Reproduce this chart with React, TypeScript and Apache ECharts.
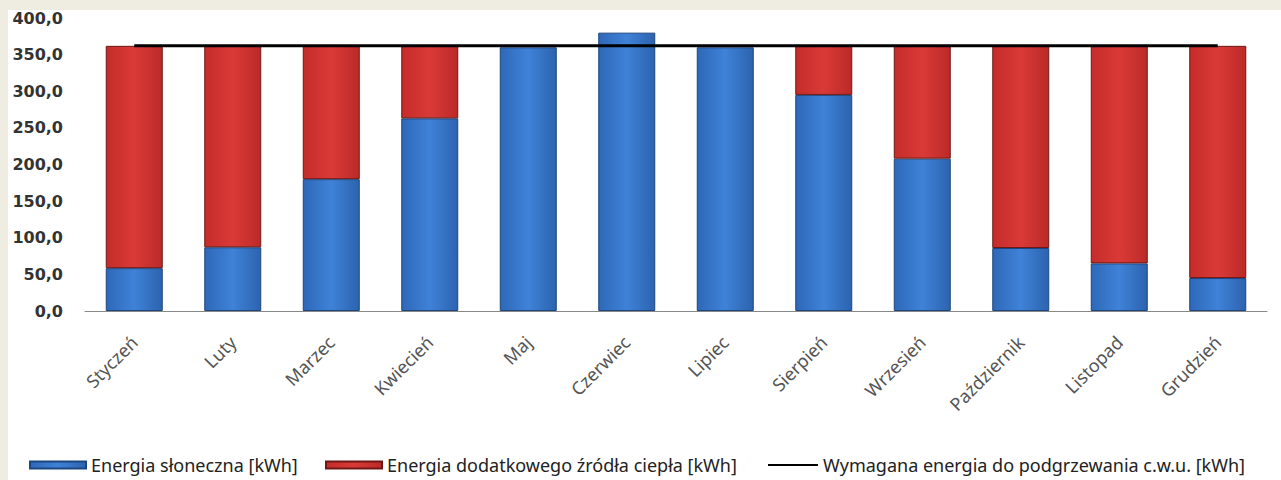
import React, { useEffect, useRef } from "react";
import * as echarts from "echarts";

const months = ["Styczeń", "Luty", "Marzec", "Kwiecień", "Maj", "Czerwiec", "Lipiec", "Sierpień", "Wrzesień", "Październik", "Listopad", "Grudzień"];
const solar = [58.5, 87, 180, 263, 360, 380, 360, 295, 208, 86, 65, 45];
const extra = [303.5, 275, 182, 99, null, null, null, 67, 154, 276, 297, 317];
const required = [362, 362, 362, 362, 362, 362, 362, 362, 362, 362, 362, 362];
const seriesNames = ["Energia słoneczna [kWh]", "Energia dodatkowego źródła ciepła [kWh]", "Wymagana energia do podgrzewania c.w.u. [kWh]"];

export default function App() {
  const ref = useRef<HTMLDivElement>(null);
  useEffect(() => {
    if (!ref.current) return;
    const chart = echarts.init(ref.current, null, { renderer: "svg" });
    const blueGrad = new echarts.graphic.LinearGradient(0, 0, 1, 0, [
      { offset: 0, color: "#2e68b8" },
      { offset: 0.5, color: "#3f82d8" },
      { offset: 1, color: "#2c63ae" },
    ]);
    const redGrad = new echarts.graphic.LinearGradient(0, 0, 1, 0, [
      { offset: 0, color: "#c42c2a" },
      { offset: 0.5, color: "#da3a37" },
      { offset: 1, color: "#bb2a28" },
    ]);
    const legendText = { fontFamily: "Noto Sans", fontSize: 18, lineHeight: 20, color: "#222" };
    chart.setOption({
      animation: false,
      backgroundColor: "#ffffff",
      grid: { left: 77, right: 14, top: 7, bottom: 169 },
      legend: [
        {
          left: 16,
          top: 440,
          itemWidth: 56,
          itemHeight: 7,
          itemGap: 4,
          textStyle: legendText,
          data: [{ name: seriesNames[0], icon: "rect" }],
        },
        {
          left: 312,
          top: 440,
          itemWidth: 56,
          itemHeight: 7,
          textStyle: legendText,
          data: [{ name: seriesNames[1], icon: "rect" }],
        },
        {
          left: 755,
          top: 440,
          itemWidth: 50,
          itemHeight: 2,
          textStyle: legendText,
          data: [{ name: seriesNames[2], icon: "rect", itemStyle: { color: "#000" } }],
        },
      ],
      xAxis: {
        type: "category",
        data: months,
        axisLine: { lineStyle: { color: "#888" } },
        axisTick: { show: false },
        axisLabel: {
          rotate: 45,
          color: "#555",
          fontFamily: "Noto Sans",
          fontSize: 18,
          margin: 28,
          interval: 0,
        },
      },
      yAxis: {
        type: "value",
        min: 0,
        max: 400,
        interval: 50,
        splitLine: { show: false },
        axisLine: { show: false },
        axisTick: { show: false },
        axisLabel: {
          formatter: (v: number) => v.toFixed(1).replace(".", ","),
          color: "#333",
          fontFamily: "DejaVu Sans",
          fontWeight: "bold",
          fontSize: 16,
          margin: 22,
        },
      },
      series: [
        {
          name: seriesNames[0],
          type: "bar",
          stack: "e",
          barWidth: 57,
          data: solar,
          itemStyle: { color: blueGrad, borderColor: "#1d467e", borderWidth: 1 },
        },
        {
          name: seriesNames[1],
          type: "bar",
          stack: "e",
          barWidth: 57,
          data: extra,
          itemStyle: { color: redGrad, borderColor: "#6e1816", borderWidth: 1 },
        },
        {
          name: seriesNames[2],
          type: "line",
          data: required,
          symbol: "none",
          lineStyle: { color: "#000", width: 3 },
          itemStyle: { color: "#000" },
          z: 5,
        },
      ],
    });
    return () => chart.dispose();
  }, []);
  return (
    <div style={{ position: "absolute", left: 0, top: 0, width: 1281, height: 480, background: "#efece2" }}>
      <div ref={ref} style={{ position: "absolute", left: 8, top: 10, width: 1273, height: 470 }} />
    </div>
  );
}
